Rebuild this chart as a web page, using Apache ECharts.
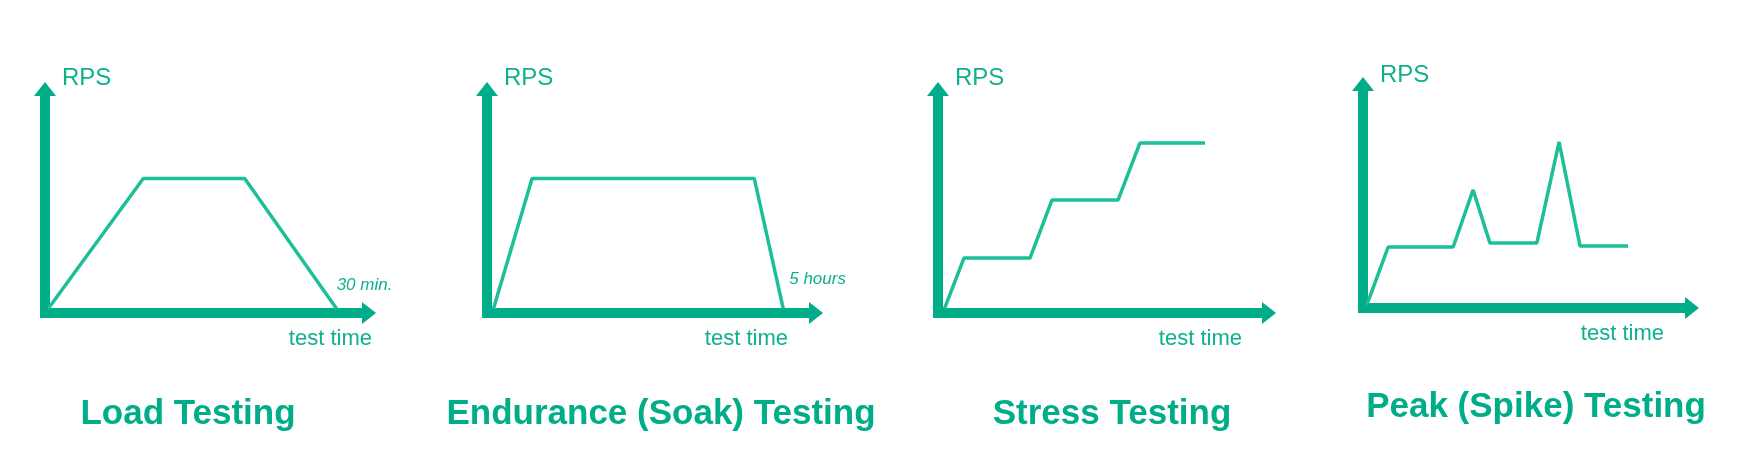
<!DOCTYPE html>
<html>
<head>
<meta charset="utf-8">
<title>Performance test types</title>
<script src="https://cdn.jsdelivr.net/npm/echarts@6/dist/echarts.min.js"></script>
<style>
  html, body { margin: 0; background: #fff; }
  #chart { width: 1753px; height: 462px; }
</style>
</head>
<body>
<div id="chart"></div>
<script>
const titles = ['Load Testing', 'Endurance (Soak) Testing', 'Stress Testing', 'Peak (Spike) Testing']
const notes = ['30 min.', '5 hours', '', '']

// time and RPS, both as % of the axis length
const loadTime = [1, 31, 63, 92]
const loadRps = [2, 62, 62, 2]
const soakTime = [2, 14, 83, 92]
const soakRps = [2, 62, 62, 2]
const stressTime = [2, 8, 28.4, 35.2, 55.6, 62.3, 82.4]
const stressRps = [2, 25.3, 25.3, 52.1, 52.1, 78.3, 78.3]
const spikeTime = [1.2, 7.8, 28, 34.2, 39.4, 54, 60.9, 67.4, 82.3]
const spikeRps = [1.4, 28.1, 28.1, 54.4, 30, 30, 76.5, 28.6, 28.6]

const profiles = [
  [loadTime, loadRps],
  [soakTime, soakRps],
  [stressTime, stressRps],
  [spikeTime, spikeRps],
]

// layout of the four little charts
const panels = [
  { left: 45, bottom: 313, width: 317, height: 217, xGap: 10, yGap: 18, titleX: 188, titleTop: 397, note: [-8, -23] },
  { left: 487, bottom: 313, width: 322, height: 217, xGap: -21, yGap: 18, titleX: 661, titleTop: 397, note: [-2, -29] },
  { left: 938, bottom: 313, width: 324, height: 217, xGap: -20, yGap: 18, titleX: 1112, titleTop: 397, note: [0, 0] },
  { left: 1363, bottom: 308, width: 322, height: 217, xGap: -21, yGap: 16, titleX: 1536, titleTop: 390, note: [0, 0] },
]

const AXIS = '#00ad89'
const LINE = '#1dbf98'
const TEXT = '#0fb08e'
const FONT = '"Liberation Sans", Arial, sans-serif'

const axisLine = {
  show: true,
  symbol: ['none', 'triangle'],
  symbolSize: [22, 14],
  symbolOffset: [0, 7],
  lineStyle: { color: AXIS, width: 10, cap: 'square' },
}

const chart = echarts.init(document.getElementById('chart'))
chart.setOption({
  animation: false,
  backgroundColor: '#fff',
  title: panels.map((p, i) => ({
    text: titles[i],
    left: p.titleX,
    top: p.titleTop,
    textAlign: 'center',
    padding: 0,
    textStyle: { color: AXIS, fontSize: 35, fontWeight: 'bold', fontFamily: FONT },
  })),
  grid: panels.map(p => ({
    left: p.left,
    top: p.bottom - p.height,
    width: p.width,
    height: p.height,
  })),
  xAxis: panels.map((p, i) => ({
    type: 'value',
    gridIndex: i,
    min: 0,
    max: 100,
    name: 'test time',
    nameLocation: 'end',
    nameGap: p.xGap,
    nameTextStyle: {
      color: TEXT, fontSize: 22, fontFamily: FONT,
      align: 'right', verticalAlign: 'top', padding: [15, 0, 0, 0],
    },
    axisLine,
    axisTick: { show: false },
    axisLabel: { show: false },
    splitLine: { show: false },
  })),
  yAxis: panels.map((p, i) => ({
    type: 'value',
    gridIndex: i,
    min: 0,
    max: 100,
    name: 'RPS',
    nameLocation: 'end',
    nameGap: p.yGap,
    nameTextStyle: {
      color: TEXT, fontSize: 24, fontFamily: FONT,
      align: 'left', verticalAlign: 'middle', padding: [0, 0, 0, 17],
    },
    axisLine,
    axisTick: { show: false },
    axisLabel: { show: false },
    splitLine: { show: false },
  })),
  series: profiles.map(([time, rps], i) => ({
    type: 'line',
    xAxisIndex: i,
    yAxisIndex: i,
    data: time.map((t, k) => [t, rps[k]]),
    showSymbol: false,
    lineStyle: { color: LINE, width: 3.5 },
    endLabel: {
      show: !!notes[i],
      formatter: notes[i],
      offset: panels[i].note,
      color: TEXT,
      fontSize: 17,
      fontStyle: 'italic',
      fontFamily: FONT,
    },
  })),
})
</script>
</body>
</html>
